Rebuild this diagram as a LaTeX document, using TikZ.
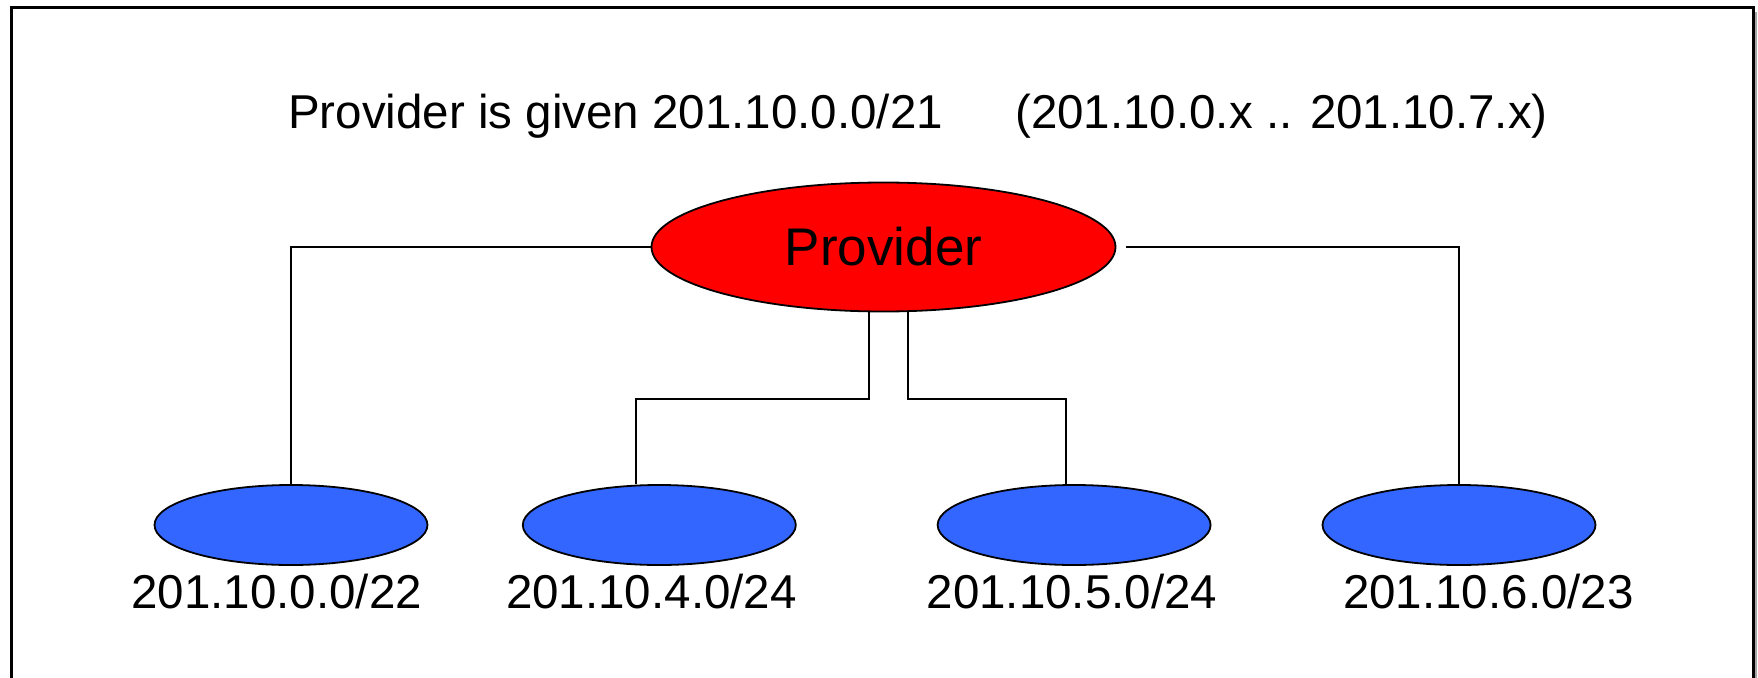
\documentclass[tikz,border=0pt]{standalone}
\usepackage{fontspec}
\setmainfont{Liberation Sans}
\usetikzlibrary{shapes.geometric}
\definecolor{netblue}{HTML}{3366FF}
\definecolor{provred}{HTML}{FF0000}
\begin{document}
\begin{tikzpicture}[x=1pt,y=-1pt,
  conn/.style={draw=black,line width=1.8pt},
  subnet/.style={ellipse,draw=black,line width=1.8pt,fill=netblue,minimum width=273pt,minimum height=80pt,inner sep=0pt},
  provstyle/.style={ellipse,draw=black,line width=1.8pt,fill=provred,minimum width=464pt,minimum height=129pt,inner sep=0pt,font=\fontsize{53}{56}\selectfont},
  lbl/.style={anchor=base,inner sep=0pt,font=\fontsize{47.5}{50}\selectfont},
  ttl/.style={anchor=base west,inner sep=0pt,font=\fontsize{47.5}{50}\selectfont},
]
\useasboundingbox (0,0) rectangle (1758,677);
% frame
\draw[gray!70,line width=2pt] (1755.5,12) -- (1755.5,690);
\draw[line width=3pt] (11.5,690) -- (11.5,8) -- (1753,8) -- (1753,690);
% title
\node[ttl] (title) at (288,128) {Provider is given 201.10.0.0/21};
\node[ttl] (range) at (1015,128) {(201.10.0.x .. 201.10.7.x)};
% provider
\node[provstyle] (provider) at (883.5,247) {Provider};
% subnets
\node[subnet] (n1) at (291,525) {};
\node[subnet] (n2) at (659.3,525) {};
\node[subnet] (n3) at (1074.1,525) {};
\node[subnet] (n4) at (1459,525) {};
\node[lbl] (l1) at (276.7,608) {201.10.0.0/22};
\node[lbl] (l2) at (651.4,608) {201.10.4.0/24};
\node[lbl] (l3) at (1071.9,608) {201.10.5.0/24};
\node[lbl] (l4) at (1488.4,608) {201.10.6.0/23};
% connectors
\coordinate (k2) at (636,399);
\coordinate (k3) at (1066,399);
\draw[conn] (provider.west) -| (n1.north);
\draw[conn] ([xshift=10pt]provider.east) -| (n4.north);
\draw[conn] ([xshift=-14.5pt]provider.south) |- (k2) -- (n2.north -| k2);
\draw[conn] ([xshift=24.5pt]provider.south) |- (k3) -- (n3.north -| k3);
\end{tikzpicture}
\end{document}
